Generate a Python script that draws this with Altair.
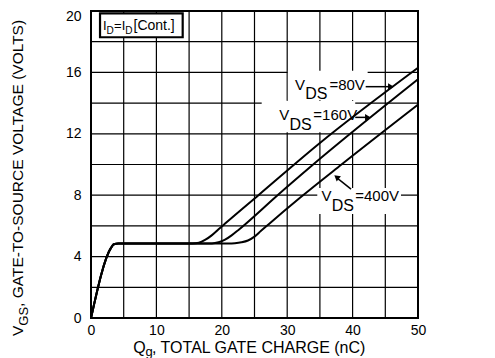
import altair as alt
import pandas as pd

# ---------------- data ----------------
# shared start of every curve: linear rise and the Miller plateau
q_common = [0.0, 3.1, 3.5, 4.2]
v_common = [0.0, 4.6, 4.8, 4.85]

q_80 = [15.5, 16.5, 17.5, 18.5, 19.5, 20.5, 25.6, 35.0, 50.0]
v_80 = [4.85, 4.9, 5.1, 5.4, 5.78, 6.15, 8.0, 11.4, 16.3]

q_160 = [18.5, 19.5, 20.5, 21.5, 22.5, 23.5, 28.4, 33.7, 50.0]
v_160 = [4.86, 4.93, 5.1, 5.38, 5.72, 6.08, 7.95, 9.9, 15.55]

q_400 = [21.0, 22.0, 23.0, 24.0, 25.0, 26.0, 27.0, 32.0, 38.3, 50.0]
v_400 = [4.85, 4.87, 4.93, 5.05, 5.3, 5.68, 6.05, 7.85, 10.0, 13.9]

series_names = ["VDS=80V", "VDS=160V", "VDS=400V"]

x_ticks = [0, 10, 20, 30, 40, 50]
y_ticks = [0, 4, 8, 12, 16, 20]
x_grid = [5, 10, 15, 20, 25, 30, 35, 40, 45]
y_grid = [2, 4, 6, 8, 10, 12, 14, 16, 18]

# ---------------- tables built from the arrays ----------------
rows = []
for name, qs, vs in zip(series_names, [q_80, q_160, q_400], [v_80, v_160, v_400]):
    q_all = q_common + qs
    v_all = v_common + vs
    for i, (q, v) in enumerate(zip(q_all, v_all)):
        rows.append({"series": name, "q": q, "v": v, "order": i})
curves = pd.DataFrame(rows)

# annotation layout (data coordinates)
FONT = "Liberation Sans"
texts = pd.DataFrame([
    # legend box  I_D = I_D [Cont.]
    {"x": 1.85, "y": 18.79, "t": "I", "s": 13, "a": 0},
    {"x": 2.37, "y": 18.53, "t": "D", "s": 10, "a": 0},
    {"x": 3.50, "y": 18.79, "t": "=", "s": 13, "a": 0},
    {"x": 4.72, "y": 18.79, "t": "I", "s": 13, "a": 0},
    {"x": 5.24, "y": 18.53, "t": "D", "s": 10, "a": 0},
    {"x": 6.50, "y": 18.79, "t": "[Cont.]", "s": 14, "a": 0},
    # V_DS = 80V
    {"x": 31.20, "y": 14.85, "t": "V", "s": 15, "a": 0},
    {"x": 32.75, "y": 14.25, "t": "DS", "s": 16, "a": 0},
    {"x": 36.45, "y": 14.85, "t": "=80V", "s": 15, "a": 0},
    # V_DS = 160V
    {"x": 28.80, "y": 12.90, "t": "V", "s": 15, "a": 0},
    {"x": 30.35, "y": 12.25, "t": "DS", "s": 16, "a": 0},
    {"x": 34.00, "y": 12.90, "t": "=160V", "s": 15, "a": 0},
    # V_DS = 400V
    {"x": 35.25, "y": 7.65, "t": "V", "s": 15, "a": 0},
    {"x": 36.80, "y": 6.97, "t": "DS", "s": 16, "a": 0},
    {"x": 40.40, "y": 7.65, "t": "=400V", "s": 15, "a": 0},
    # x title  Q_g, TOTAL GATE CHARGE (nC)
    {"x": 6.47, "y": -2.28, "t": "Q", "s": 16, "a": 0},
    {"x": 8.33, "y": -2.48, "t": "g", "s": 13, "a": 0},
    {"x": 9.33, "y": -2.28, "t": ", TOTAL GATE CHARGE (nC)", "s": 16, "a": 0},
    # y title  V_GS, GATE-TO-SOURCE VOLTAGE (VOLTS)
    {"x": -10.40, "y": -1.17, "t": "V", "s": 15.5, "a": 270},
    {"x": -9.63, "y": -0.50, "t": "GS", "s": 13, "a": 270},
    {"x": -10.40, "y": 0.72, "t": ", GATE-TO-SOURCE VOLTAGE (VOLTS)", "s": 15.5, "a": 270},
])

white_boxes = pd.DataFrame([
    {"x": 30.1, "x2": 42.3, "y": 14.2, "y2": 16.1},
    {"x": 26.1, "x2": 40.4, "y": 12.1, "y2": 14.15},
    {"x": 34.6, "x2": 47.4, "y": 6.78, "y2": 8.47},
])
legend_box = pd.DataFrame([{"x": 1.38, "x2": 14.02, "y": 18.29, "y2": 19.85}])

arrows = pd.DataFrame([
    {"x": 42.0, "y": 15.07, "x2": 45.6, "y2": 15.07},
    {"x": 40.4, "y": 13.07, "x2": 42.1, "y2": 13.07},
    {"x": 39.76, "y": 8.40, "x2": 37.7, "y2": 9.10},
])
heads = pd.DataFrame([
    {"x": 45.87, "y": 15.07, "ang": 90},
    {"x": 42.35, "y": 13.07, "ang": 90},
    {"x": 37.55, "y": 9.18, "ang": 309.7},
])

# ---------------- encodings ----------------
xs = alt.Scale(domain=[0, 50], nice=False, zero=False)
ys = alt.Scale(domain=[0, 20], nice=False, zero=False)
x_axis = alt.Axis(values=x_ticks, grid=False, ticks=False, tickSize=0, domain=False,
                  labelFont=FONT, labelFontSize=14, labelColor="black",
                  labelPadding=5, labelFlush=False, title=None)
y_axis = alt.Axis(values=y_ticks, grid=False, ticks=False, tickSize=0, domain=False,
                  labelFont=FONT, labelFontSize=14, labelColor="black",
                  labelPadding=10, labelFlush=False, title=None,
                  labelOffset={"condition": {"test": "datum.value == 20", "value": 5},
                               "value": 0})


def X(f):
    return alt.X(f, type="quantitative", scale=xs, axis=x_axis)


def Y(f):
    return alt.Y(f, type="quantitative", scale=ys, axis=y_axis)


vgrid = alt.Chart(pd.DataFrame({"g": x_grid})).mark_rule(color="black", strokeWidth=1.2).encode(x=X("g"))
hgrid = alt.Chart(pd.DataFrame({"g": y_grid})).mark_rule(color="black", strokeWidth=1.2).encode(y=Y("g"))

wbox = alt.Chart(white_boxes).mark_rect(fill="white").encode(
    x=X("x"), x2="x2", y=Y("y"), y2="y2")
lbox = alt.Chart(legend_box).mark_rect(fill="white", stroke="black", strokeWidth=2.2).encode(
    x=X("x"), x2="x2", y=Y("y"), y2="y2")

lines = alt.Chart(curves).mark_line(color="black", strokeWidth=2, interpolate="monotone").encode(
    x=X("q"), y=Y("v"), detail="series:N", order="order:Q")

shafts = alt.Chart(arrows).mark_rule(color="black", strokeWidth=1.5).encode(
    x=X("x"), x2="x2", y=Y("y"), y2="y2")
tips = alt.Chart(heads).mark_point(shape="triangle-up", filled=True, color="black",
                                   opacity=1, size=45).encode(
    x=X("x"), y=Y("y"), angle=alt.Angle("ang:Q", scale=None))

labels = alt.Chart(texts).mark_text(font=FONT, color="black", align="left",
                                    baseline="alphabetic").encode(
    x=X("x"), y=Y("y"), text="t:N",
    size=alt.Size("s:Q", scale=None), angle=alt.Angle("a:Q", scale=None))

chart = alt.layer(vgrid, hgrid, wbox, lbox, lines, shafts, tips, labels).properties(
    width=327, height=307,
    autosize=alt.AutoSizeParams(type="none"),
    padding={"left": 83, "top": 3, "right": 60, "bottom": 40},
    background="white",
).configure_view(stroke="black", strokeWidth=2)

chart.save("out.html", embed_options={"renderer": "svg", "actions": False})
